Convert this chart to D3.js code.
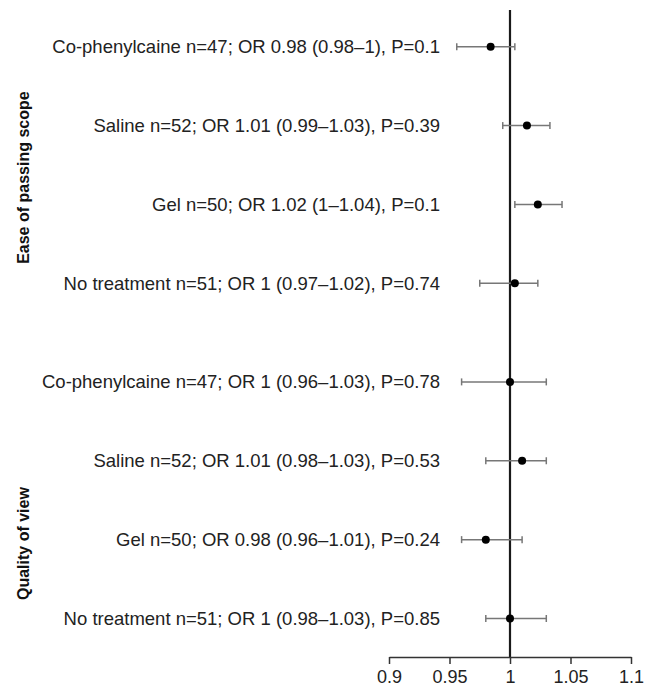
<!DOCTYPE html>
<html>
<head>
<meta charset="utf-8">
<script src="https://cdn.jsdelivr.net/npm/d3@7"></script>
<style>
  body { margin: 0; background: #fff; }
  svg { font-family: "Liberation Sans", Arial, Helvetica, sans-serif; }
</style>
</head>
<body>
<div id="chart"></div>
<script>
// forest plot data
var groups = ["Ease of passing scope", "Quality of view"];
var labels = [
    "Co-phenylcaine n=47; OR 0.98 (0.98\u20131), P=0.1",
    "Saline n=52; OR 1.01 (0.99\u20131.03), P=0.39",
    "Gel n=50; OR 1.02 (1\u20131.04), P=0.1",
    "No treatment n=51; OR 1 (0.97\u20131.02), P=0.74",
    "Co-phenylcaine n=47; OR 1 (0.96\u20131.03), P=0.78",
    "Saline n=52; OR 1.01 (0.98\u20131.03), P=0.53",
    "Gel n=50; OR 0.98 (0.96\u20131.01), P=0.24",
    "No treatment n=51; OR 1 (0.98\u20131.03), P=0.85"
];
var groupOf = [0, 0, 0, 0, 1, 1, 1, 1];
var oddsRatio = [0.984, 1.014, 1.023, 1.004, 1.000, 1.010, 0.980, 1.000];
var lower = [0.956, 0.994, 1.004, 0.975, 0.960, 0.980, 0.960, 0.980];
var upper = [1.004, 1.033, 1.043, 1.023, 1.030, 1.030, 1.010, 1.030];
var tickValues = [0.9, 0.95, 1, 1.05, 1.1];

var width = 652;
var height = 689;

var svg = d3.select("#chart")
    .append("svg")
    .attr("width", width)
    .attr("height", height);

var x = d3.scaleLinear()
    .domain([0.9, 1.1])
    .range([389, 631]);

// rows are slots, with a bit of extra room between the two groups
var slot = (i) => i + groupOf[i] * 0.25;
var y = d3.scaleLinear()
    .domain([0, 7.25])
    .range([46.7, 618.5]);

var rows = labels.map((d, i) => ({
    label: d, or: oddsRatio[i], lo: lower[i], hi: upper[i], y: y(slot(i))
}));

// reference line at OR = 1
svg.append("line")
    .attr("x1", x(1)).attr("x2", x(1))
    .attr("y1", 10).attr("y2", 657)
    .attr("stroke", "#1a1a1a")
    .attr("stroke-width", 2.2);

// axis
var axis = svg.append("g")
    .attr("transform", "translate(0,657)")
    .call(d3.axisBottom(x).tickValues(tickValues).tickFormat(d3.format("")).tickSize(7).tickSizeOuter(0));
axis.select(".domain").attr("stroke", "#333").attr("stroke-width", 1.5);
axis.selectAll(".tick line").attr("stroke", "#333").attr("stroke-width", 1.5);
axis.selectAll(".tick text")
    .attr("y", 13)
    .attr("dy", "0.71em")
    .attr("fill", "#222")
    .style("font-size", "18px")
    .style("font-family", "Liberation Sans, Arial, sans-serif");

// confidence intervals
var bars = svg.append("g")
    .selectAll("g")
    .data(rows)
    .enter()
    .append("g")
    .attr("stroke", "#777")
    .attr("stroke-width", 1.5);

bars.append("line")
    .attr("x1", (d) => x(d.lo))
    .attr("x2", (d) => x(d.hi))
    .attr("y1", (d) => d.y)
    .attr("y2", (d) => d.y);
bars.append("line")
    .attr("x1", (d) => x(d.lo)).attr("x2", (d) => x(d.lo))
    .attr("y1", (d) => d.y - 3.5).attr("y2", (d) => d.y + 3.5);
bars.append("line")
    .attr("x1", (d) => x(d.hi)).attr("x2", (d) => x(d.hi))
    .attr("y1", (d) => d.y - 3.5).attr("y2", (d) => d.y + 3.5);

// point estimates
svg.append("g")
    .selectAll("circle")
    .data(rows)
    .enter()
    .append("circle")
    .attr("cx", (d) => x(d.or))
    .attr("cy", (d) => d.y)
    .attr("r", 4)
    .attr("fill", "#000");

// row labels
svg.append("g")
    .selectAll("text")
    .data(rows)
    .enter()
    .append("text")
    .attr("x", 440)
    .attr("y", (d) => d.y)
    .attr("dy", "0.35em")
    .attr("text-anchor", "end")
    .attr("fill", "#222")
    .style("font-size", "18.5px")
    .text((d) => d.label);

// group labels
var groupY = [y(1.66), y(6.3)];
svg.append("g")
    .selectAll("text")
    .data(groups)
    .enter()
    .append("text")
    .attr("transform", (d, i) => "translate(29," + groupY[i] + ") rotate(-90)")
    .attr("text-anchor", "middle")
    .attr("fill", "#111")
    .style("font-size", "16px")
    .style("font-weight", "bold")
    .text((d) => d);
</script>
</body>
</html>
